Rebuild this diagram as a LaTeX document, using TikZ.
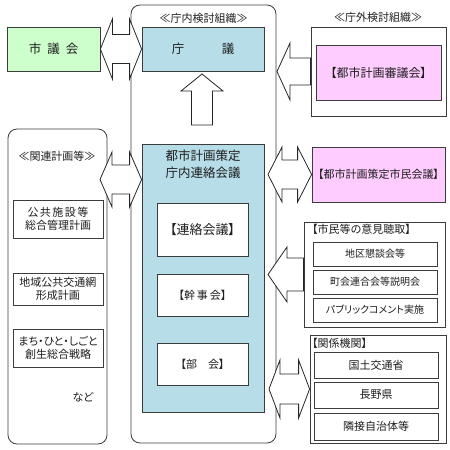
\documentclass[tikz,border=0pt]{standalone}
\usepackage{fontspec}
\setmainfont{Noto Sans CJK JP}[RawFeature=+palt]
\usetikzlibrary{calc}
\definecolor{lblue}{RGB}{183,221,232}
\definecolor{lgreen}{RGB}{204,255,204}
\definecolor{lpink}{RGB}{255,204,255}
\definecolor{edge}{RGB}{60,60,60}
\definecolor{txt}{RGB}{30,30,30}
\newcommand{\mydblarrow}[5]{%
  \draw[barrow] let \p1=(#1), \p2=(#2) in
   (\x1,\y1) -- (\x1+#3pt,\y1+#4pt) -- (\x1+#3pt,\y1+#5pt) -- (\x2-#3pt,\y1+#5pt) -- (\x2-#3pt,\y1+#4pt) -- (\x2,\y1)
   -- (\x2-#3pt,\y1-#4pt) -- (\x2-#3pt,\y1-#5pt) -- (\x1+#3pt,\y1-#5pt) -- (\x1+#3pt,\y1-#4pt) -- cycle;}
\newcommand{\mysglarrow}[5]{%
  \draw[barrow] let \p1=(#1), \p2=(#2) in
   (\x1,\y1) -- (\x1+#3pt,\y1+#4pt) -- (\x1+#3pt,\y1+#5pt) -- (\x2,\y1+#5pt) -- (\x2,\y1-#5pt)
   -- (\x1+#3pt,\y1-#5pt) -- (\x1+#3pt,\y1-#4pt) -- cycle;}
\begin{document}
\begin{tikzpicture}[x=1pt,y=-1pt,
  box/.style={draw=edge, line width=0.8pt, inner sep=0pt, align=center, text=txt},
  frame/.style={draw=edge, line width=0.8pt, rounded corners=9pt, inner sep=0pt, fill=white},
  lbl/.style={inner sep=0pt, text=txt, align=center},
  barrow/.style={draw=black!85, fill=white, line width=0.8pt, line join=miter},
  f12/.style={font=\fontsize{12.5}{17}\selectfont},
  f11/.style={font=\fontsize{11}{13}\selectfont},
  f10/.style={font=\fontsize{10}{12.5}\selectfont}]
\useasboundingbox (0,0) rectangle (450,450);
\fill[white] (0,0) rectangle (450,450);

% frames
\node[frame, minimum width=145pt, minimum height=438pt] (chonai) at (203.5,224) {};
\node[frame, minimum width=99pt, minimum height=315pt] (kanren) at (57.5,286.5) {};

% titles
\node[lbl, f11] (chonaiT) at (203.5,18) {≪庁内検討組織≫};
\node[lbl, f11] (chogaiT) at (378,17) {≪庁外検討組織≫};
\node[lbl, f11] (kanrenT) at (57,156) {≪関連計画等≫};

% left column
\node[box, f12, fill=lgreen, minimum width=93pt, minimum height=44pt] (gikai) at (53.5,49) {市\hspace{6pt}議\hspace{6pt}会};
\node[box, f11, fill=white, minimum width=90pt, minimum height=38pt] (kokyo) at (58,219) {公\hspace{1.5pt}共\hspace{1.5pt}施\hspace{1.5pt}設\hspace{1.5pt}等\\総合管理計画};
\node[box, f11, fill=white, minimum width=90pt, minimum height=32pt] (chiiki) at (58,289) {地域公共交通網\\形成計画};
\node[box, f11, fill=white, minimum width=90pt, minimum height=38pt] (machi) at (58,348) {まち・ひと・しごと\\創生総合戦略};
\node[lbl, f11] (nado) at (83,397) {など};

% middle column
\node[box, f12, fill=lblue, minimum width=122pt, minimum height=44pt] (chogi) at (203,49) {庁　　　議};
\node[box, fill=lblue, minimum width=122pt, minimum height=268pt] (renbox) at (203,278) {};
\node[lbl, f12] (renT) at (203,164) {都市計画策定\\庁内連絡会議};
\node[box, fill=white, minimum width=91pt, minimum height=53pt, font=\fontsize{13}{15}\selectfont] (renraku) at (202.5,229.5) {【連絡会議】};
\node[box, f11, fill=white, minimum width=91pt, minimum height=42pt] (kanji) at (202.5,295) {【幹\hspace{2pt}事\hspace{2pt}会】};
\node[box, f11, fill=white, minimum width=91pt, minimum height=42pt] (bukai) at (202.5,364) {【部　会】};

% right column
\node[box, fill=white, minimum width=135pt, minimum height=89pt] (gaibu) at (378.5,71.5) {};
\node[box, fill=lpink, minimum width=125pt, minimum height=55pt, font=\fontsize{12}{14}\selectfont] (shingi) at (378.5,72.5) {【都市計画審議会】};
\node[box, f11, fill=lpink, minimum width=133pt, minimum height=55pt] (shimin) at (378.5,174.5) {【都市計画策定市民会議】};

\node[box, fill=white, minimum width=141pt, minimum height=105pt] (iken) at (374.5,274.5) {};
\node[lbl, f11, anchor=west] (ikenT) at (312,229) {【市民等の意見聴取】};
\node[box, f10, fill=white, minimum width=124pt, minimum height=24pt] (kondan) at (375,254) {地区懇談会等};
\node[box, f10, fill=white, minimum width=124pt, minimum height=24pt] (chokai) at (375,282) {町会連合会等説明会};
\node[box, f10, fill=white, minimum width=124pt, minimum height=24pt] (pubcom) at (375,310) {パブリックコメント実施};

\node[box, fill=white, minimum width=136pt, minimum height=108pt] (kankei) at (378,389) {};
\node[lbl, f11, anchor=west] (kankeiT) at (312,343) {【関係機関】};
\node[box, f11, fill=white, minimum width=124pt, minimum height=26pt] (kokudo) at (376,365) {国土交通省};
\node[box, f11, fill=white, minimum width=124pt, minimum height=26pt] (nagano) at (376,395) {長野県};
\node[box, f11, fill=white, minimum width=124pt, minimum height=27pt] (rinsetsu) at (376,426.5) {隣接自治体等};

% arrow end points
\coordinate (bL) at (100,179.5);
\coordinate (bR) at (renbox.west |- bL);
\coordinate (cT) at (277,71.5);
\coordinate (dT) at (268,174.5);
\coordinate (eT) at (268,274.5);
\coordinate (fT) at (269,389);
\coordinate (gT) at (202,74);
\coordinate (gB) at (202,125);

% arrows
\mydblarrow{gikai.east}{chogi.west}{12}{30}{14.5}
\mydblarrow{bL}{bR}{12}{27.5}{14.5}
\mysglarrow{cT}{gaibu.west}{13}{28.5}{13.5}
\mydblarrow{dT}{shimin.west}{14}{27.5}{14.5}
\mysglarrow{eT}{iken.west}{19}{27.5}{16.5}
\mydblarrow{fT}{kankei.west}{11}{29}{15}
\draw[barrow] let \p1=(gT), \p2=(gB) in
  (\x1,\y1) -- (\x1+21pt,\y1-17pt) -- (\x1+10.5pt,\y1-17pt) -- (\x1+10.5pt,\y2)
  -- (\x1-10.5pt,\y2) -- (\x1-10.5pt,\y1-17pt) -- (\x1-21pt,\y1-17pt) -- cycle;
\end{tikzpicture}
\end{document}
